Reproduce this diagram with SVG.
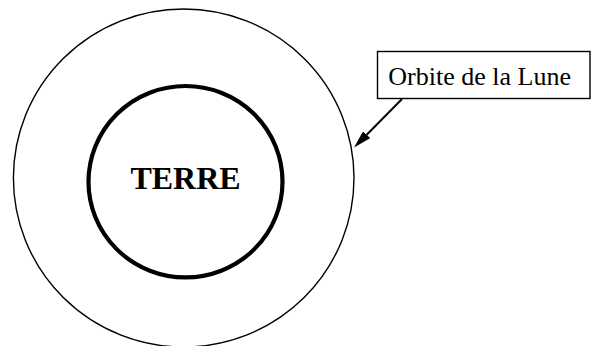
<svg xmlns="http://www.w3.org/2000/svg" width="593" height="346" viewBox="0 0 593 346">
<style>
.t{font-family:"Liberation Serif","Times New Roman",serif;fill:#000}
.ln{fill:none;stroke:#000}
</style>
<defs>
<marker id="ah" markerUnits="userSpaceOnUse" markerWidth="18" markerHeight="10" refX="0" refY="5" orient="auto">
<path d="M0,0 L18,5 L0,10 z" fill="#000"/>
</marker>
</defs>
<rect width="593" height="346" fill="#fff"/>
<g id="orbite">
<ellipse class="ln" cx="183.7" cy="178" rx="170.3" ry="169" stroke-width="1.4"/>
</g>
<g id="terre">
<ellipse class="ln" cx="185.5" cy="181.7" rx="97" ry="95.7" stroke-width="4.2"/>
<text class="t" x="185.5" y="189.3" font-size="32" font-weight="bold" text-anchor="middle">TERRE</text>
</g>
<g id="label">
<rect x="377.5" y="51.5" width="212.5" height="47" fill="#fff" stroke="#000" stroke-width="1.4"/>
<text class="t" x="388.3" y="85" font-size="26">Orbite de la Lune</text>
</g>
<g id="connectors">
<line class="ln" x1="402" y1="99" x2="366.7" y2="134.7" stroke-width="2" marker-end="url(#ah)"/>
</g>
</svg>
